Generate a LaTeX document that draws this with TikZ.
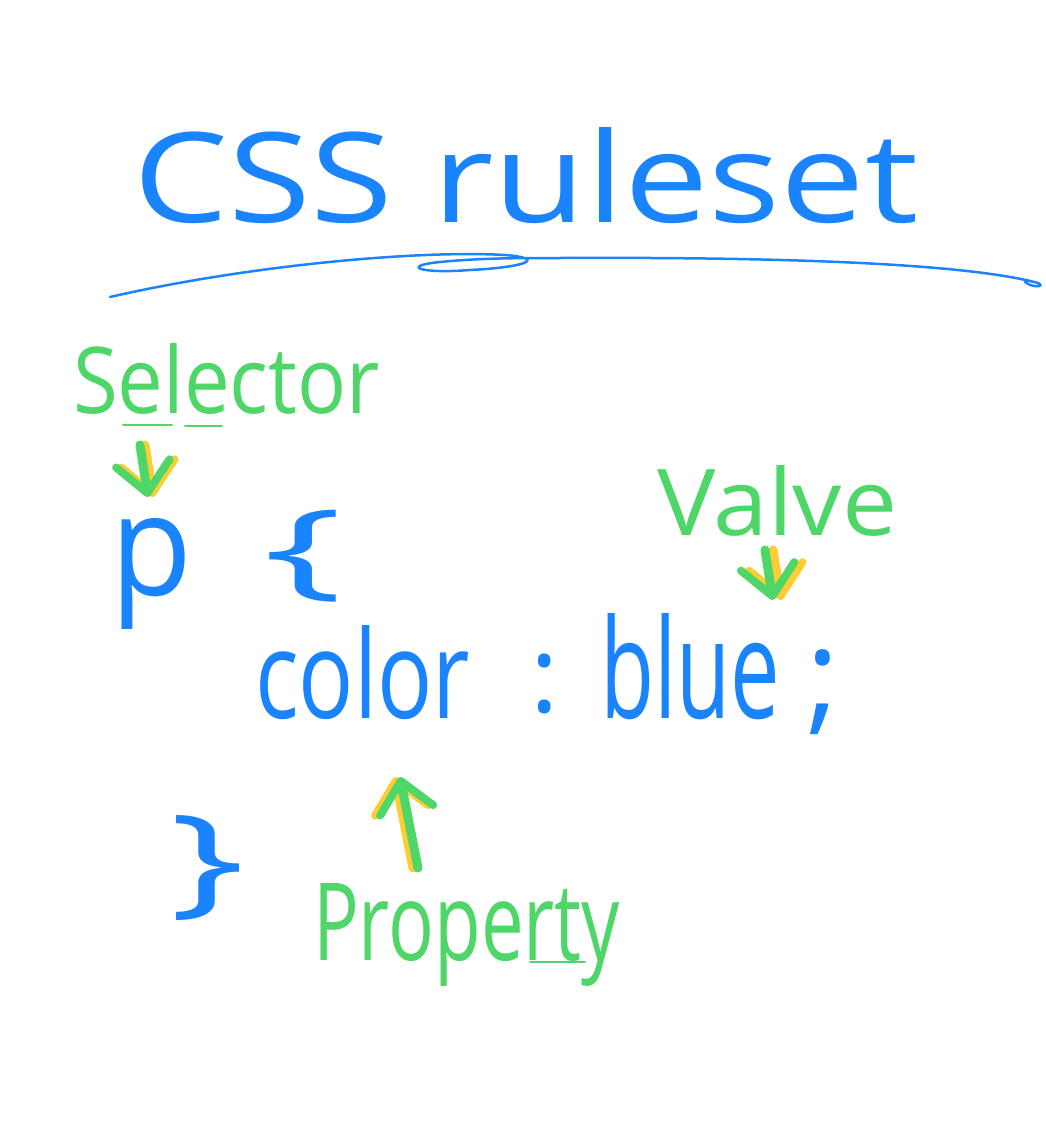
\documentclass[tikz,border=0pt]{standalone}
\usepackage{fontspec}
\setmainfont{Open Sans}
\usetikzlibrary{arrows.meta}
\definecolor{inkblue}{RGB}{26,132,255}
\definecolor{inkgreen}{RGB}{78,214,104}
\definecolor{inkyellow}{RGB}{255,204,51}
\begin{document}
\begin{tikzpicture}
			[x=1pt,y=-1pt,
			every node/.style={inner sep=0pt,outer sep=0pt},
			code/.style={text=inkblue},
			label/.style={text=inkgreen},
			pointer/.style={draw=inkgreen,line width=9pt,line cap=round,
				-{Straight Barb[length=30pt,width=54pt,line width=8pt,round]}},
			shade/.style={pointer,draw=inkyellow}]
			\useasboundingbox (0,0) rectangle (1046,1124);
			% title
			\node[code,anchor=base west] (title) at (133,222) {\resizebox{785pt}{95pt}{CSS ruleset}};
			\draw[inkblue,line width=2.5pt,line cap=round]
			(110,297) .. controls (250,265) and (420,250) .. (505,255)
			.. controls (545,258) and (530,267) .. (470,270)
			.. controls (420,274) and (400,266) .. (440,262)
			.. controls (480,258) and (520,258) .. (560,258)
			.. controls (760,257) and (960,262) .. (1038,283)
			.. controls (1046,287) and (1032,288) .. (1025,282);
			% labels
			\node[label,anchor=base west] (sel) at (73,413) {\resizebox{307pt}{70pt}{Selector}};
			\node[label,anchor=base west] (val) at (657,535) {\resizebox{240pt}{70pt}{Valve}};
			\node[label,anchor=base west] (prop) at (313,960) {\resizebox{307pt}{77pt}{Property}};
			\draw[inkgreen,line width=2pt,line cap=round] (123,425) -- (172,425) (185,426) -- (222,426);
			\draw[inkgreen,line width=2pt,line cap=round] (530,962) -- (585,962);
			% code
			\node[code,anchor=base west] (p) at (110,595) {\resizebox{82pt}{77pt}{p}};
			\node[code] (open) at (303,556) {\resizebox*{80pt}{92pt}{\{}};
			\node[code,anchor=base west] (color) at (255,718) {\resizebox{215pt}{93pt}{color}};
			\node[code] (colon) at (545,684) {\resizebox*{!}{60pt}{:}};
			\node[code,anchor=base west] (blue) at (600,718) {\resizebox{180pt}{105pt}{blue}};
			\node[code] (semi) at (823,692) {\resizebox*{!}{85pt}{;}};
			\node[code] (close) at (207,868) {\resizebox*{76pt}{105pt}{\}}};
			% pointers
			\coordinate (s1) at (140,445);
			\coordinate (s2) at (148,497);
			\coordinate (v1) at (765,550);
			\coordinate (v2) at (773,600);
			\coordinate (q1) at (418,868);
			\coordinate (q2) at (400,777);
			\draw[shade] ([xshift=5pt]s1) -- ([xshift=5pt]s2);
			\draw[shade] ([xshift=8pt]v1) -- ([xshift=8pt]v2);
			\draw[shade] ([xshift=-5pt]q1) -- ([xshift=-5pt]q2);
			\draw[pointer] (s1) -- (s2);
			\draw[pointer] (v1) -- (v2);
			\draw[pointer] (q1) -- (q2);
		\end{tikzpicture}
\end{document}
